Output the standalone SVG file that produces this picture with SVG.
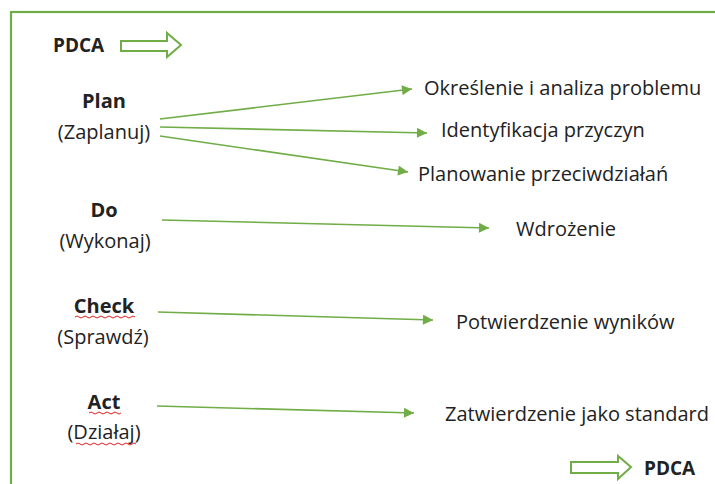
<svg xmlns="http://www.w3.org/2000/svg" width="715" height="484" viewBox="0 0 715 484">
  <style>
    .t { font-family: "Open Sans", "Noto Sans", "Liberation Sans", sans-serif; font-size: 20px; fill: #222; }
    .b { font-weight: bold; }
    .p { font-size: 19px; }
    .c { text-anchor: middle; }
    .ln { stroke: #70AD47; stroke-width: 1.6; fill: none; marker-end: url(#ah); }
    .ha { fill: #fff; stroke: #70AD47; stroke-width: 2; }
    .sq { fill: none; stroke: #e02020; stroke-width: 1; }
  </style>
  <defs>
    <marker id="ah" viewBox="0 0 10 10" refX="10" refY="5" markerWidth="12" markerHeight="10" markerUnits="userSpaceOnUse" orient="auto">
      <path d="M0,0 L10,5 L0,10 Z" fill="#70AD47"/>
    </marker>
  </defs>
  <rect width="715" height="484" fill="#fff"/>
  <!-- frame -->
  <rect x="11" y="12" width="720" height="500" fill="none" stroke="#70AD47" stroke-width="2.2"/>

  <g id="pdca-start">
    <text class="t b p" x="53" y="52">PDCA</text>
    <path class="ha" d="M121,41 H167 V33 L181,45 L167,57 V51 H121 Z"/>
  </g>

  <g id="plan">
    <text class="t b c" x="104" y="108">Plan</text>
    <text class="t c" x="104" y="139">(Zaplanuj)</text>
  </g>
  <g id="do">
    <text class="t b c" x="104" y="217">Do</text>
    <text class="t c" x="105" y="248">(Wykonaj)</text>
  </g>
  <g id="check">
    <text class="t b c" x="104" y="313">Check</text>
    <path class="sq" d="M75,317 q2,-2 4,0 t4,0 t4,0 t4,0 t4,0 t4,0 t4,0 t4,0 t4,0 t4,0 t4,0 t4,0 t4,0 t4,0 t4,0"/>
    <text class="t c" x="103" y="344">(Sprawdź)</text>
  </g>
  <g id="act">
    <text class="t b c" x="104" y="409">Act</text>
    <path class="sq" d="M89,413 q2,-2 4,0 t4,0 t4,0 t4,0 t4,0 t4,0 t4,0 t4,0"/>
    <text class="t c" x="104" y="439">(Działaj)</text>
    <path class="sq" d="M76,444 q2,-2 4,0 t4,0 t4,0 t4,0 t4,0 t4,0 t4,0 t4,0 t4,0 t4,0 t4,0 t4,0 t4,0 t4,0 t4,0"/>
  </g>

  <g id="r1"><text class="t" x="424" y="95">Określenie i analiza problemu</text></g>
  <g id="r2"><text class="t" x="441" y="137">Identyfikacja przyczyn</text></g>
  <g id="r3"><text class="t" x="418" y="181">Planowanie przeciwdziałań</text></g>
  <g id="r4"><text class="t" x="516" y="236">Wdrożenie</text></g>
  <g id="r5"><text class="t" x="456" y="329">Potwierdzenie wyników</text></g>
  <g id="r6"><text class="t" x="445" y="421">Zatwierdzenie jako standard</text></g>

  <g id="pdca-end">
    <path class="ha" d="M571,462 H618 V456 L631,467 L618,479 V473 H571 Z"/>
    <text class="t b p" x="644" y="475">PDCA</text>
  </g>

  <g id="connectors">
    <line class="ln" x1="160" y1="119" x2="412" y2="89"/>
    <line class="ln" x1="160" y1="127" x2="427" y2="133"/>
    <line class="ln" x1="160" y1="136" x2="408" y2="172"/>
    <line class="ln" x1="162" y1="220" x2="489" y2="228"/>
    <line class="ln" x1="158" y1="312" x2="433" y2="320"/>
    <line class="ln" x1="157" y1="406" x2="414" y2="413"/>
  </g>
</svg>
